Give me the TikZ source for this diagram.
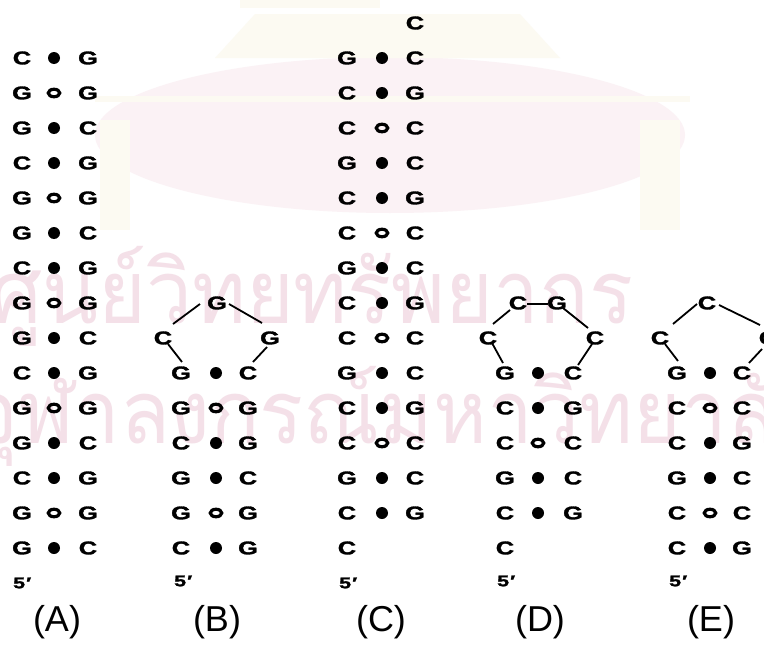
\documentclass[tikz,border=0pt]{standalone}
\usepackage{fontspec}
\setmainfont{Liberation Sans}
\newfontfamily\basefont[FakeStretch=1.38,FakeBold=1.6]{Liberation Sans}
\newfontfamily\thaifont[Script=Thai,FakeStretch=0.93]{Loma}
\usetikzlibrary{shapes.geometric,calc}
\definecolor{wmpink}{RGB}{244,224,232}
\definecolor{wmrose}{RGB}{251,242,245}
\definecolor{wmcream}{RGB}{252,250,242}
\tikzset{
  base/.style={font=\basefont\bfseries\fontsize{18.5}{18.5}\selectfont, inner sep=0pt},
  bondfill/.style={ellipse, fill=black, minimum width=12pt, minimum height=12pt, inner sep=0pt},
  bondopen/.style={ellipse, draw=black, line width=3.2pt, minimum width=11.5pt, minimum height=7.5pt, inner sep=0pt},
  prime/.style={font=\basefont\bfseries\fontsize{15.5}{15.5}\selectfont, inner sep=0pt, anchor=west},
  panel/.style={font=\fontsize{36}{36}\selectfont, inner sep=0pt},
  loopline/.style={line width=1.8pt},
  wmtext/.style={font=\thaifont\fontsize{88}{88}\selectfont, text=wmpink, inner sep=0pt, anchor=base west},
}
% one base-paired row: tag, row index, x of left base, bond, right base, then left base, bond style, right base
\newcommand\bprow[8]{%
  \node[base] (#1l#2) at (#3,{58+35*#2}) {#6};
  \node[#7] (#1d#2) at (#4,{58+35*#2}) {};
  \node[base] (#1r#2) at (#5,{58+35*#2}) {#8};
}
\begin{document}
\begin{tikzpicture}[x=1pt,y=-1pt]
\useasboundingbox (0,0) rectangle (764,645);
\clip (0,0) rectangle (764,645);
\fill[white] (0,0) rectangle (764,645);

% faint emblem and inscription in the background
\fill[wmrose] (390,135) ellipse (295 and 78);
\fill[wmcream] (215,58) -- (255,14) -- (520,14) -- (560,58) -- cycle;
\fill[wmcream] (240,0) rectangle (380,8);
\fill[wmcream] (95,96) rectangle (690,102);
\fill[wmcream] (100,120) rectangle (130,230);
\fill[wmcream] (640,120) rectangle (680,230);
\node[wmtext] (wm1) at (-10,323) {ศูนย์วิทยทรัพยากร};
\node[wmtext] (wm2) at (-30,443) {จุฬาลงกรณ์มหาวิทยาลัย};

% (A) long helix
\foreach \k/\lb/\bd/\rb in {0/C/bondfill/G,1/G/bondopen/G,2/G/bondfill/C,3/C/bondfill/G,
  4/G/bondopen/G,5/G/bondfill/C,6/C/bondfill/G,7/G/bondopen/G,8/G/bondfill/C,
  9/C/bondfill/G,10/G/bondopen/G,11/G/bondfill/C,12/C/bondfill/G,13/G/bondopen/G,14/G/bondfill/C}
  {\bprow{A}{\k}{22}{54}{88}{\lb}{\bd}{\rb}}
\node[prime] (A5) at (13,583) {5\kern1pt′};
\node[panel] (Alab) at (57,622) {(A)};

% (B) hairpin with a three-base loop
\foreach \k/\lb/\bd/\rb in {9/G/bondfill/C,10/G/bondopen/G,11/C/bondfill/G,
  12/G/bondfill/C,13/G/bondopen/G,14/C/bondfill/G}
  {\bprow{B}{\k}{181}{216}{248}{\lb}{\bd}{\rb}}
\node[base] (Bgt) at (217,303) {G};
\node[base] (Bcl) at (163,338) {C};
\node[base] (Bgr) at (270,338) {G};
\draw[loopline] ($(Bgt)+(-17,1)$) -- ($(Bcl)+(10,-14)$);
\draw[loopline] ($(Bgt)+(12,1)$) -- ($(Bgr)+(-8,-15)$);
\draw[loopline] ($(Bcl)+(5,6)$) -- ($(Bl9)+(1,-11)$);
\draw[loopline] ($(Bgr)+(-3,9)$) -- ($(Br9)+(5,-11)$);
\node[prime] (B5) at (174,581) {5\kern1pt′};
\node[panel] (Blab) at (217,622) {(B)};

% (C) helix with overhanging ends
\node[base] (Ctop) at (415,23) {C};
\foreach \k/\lb/\bd/\rb in {0/G/bondfill/C,1/C/bondfill/G,2/C/bondopen/C,3/G/bondfill/C,
  4/C/bondfill/G,5/C/bondopen/C,6/G/bondfill/C,7/C/bondfill/G,8/C/bondopen/C,
  9/G/bondfill/C,10/C/bondfill/G,11/C/bondopen/C,12/G/bondfill/C,13/C/bondfill/G}
  {\bprow{C}{\k}{347}{382}{415}{\lb}{\bd}{\rb}}
\node[base] (Cbot) at (347,548) {C};
\node[prime] (C5) at (339,583) {5\kern1pt′};
\node[panel] (Clab) at (381,622) {(C)};

% (D) hairpin with a four-base loop
\node[base] (Dct) at (518,303) {C};
\node[base] (Dgt) at (557,303) {G};
\node[base] (Dcl) at (488,338) {C};
\node[base] (Dcr) at (595,338) {C};
\foreach \k/\lb/\bd/\rb in {9/G/bondfill/C,10/C/bondfill/G,11/C/bondopen/C,
  12/G/bondfill/C,13/C/bondfill/G}
  {\bprow{D}{\k}{505}{538}{573}{\lb}{\bd}{\rb}}
\node[base] (Dbot) at (505,548) {C};
\draw[loopline] ($(Dct)+(9,1)$) -- ($(Dgt)+(-9,1)$);
\draw[loopline] ($(Dct)+(-8,7)$) -- ($(Dcl)+(5,-14)$);
\draw[loopline] ($(Dgt)+(6,5)$) -- ($(Dcr)+(-7,-10)$);
\draw[loopline] ($(Dcl)+(4,5)$) -- ($(Dl9)+(-2,-10)$);
\draw[loopline] ($(Dcr)+(-3,6)$) -- ($(Dr9)+(5,-8)$);
\node[prime] (D5) at (497,581) {5\kern1pt′};
\node[panel] (Dlab) at (540,622) {(D)};

% (E) hairpin with a three-base loop
\node[base] (Ect) at (707,303) {C};
\node[base] (Ecl) at (660,338) {C};
\node[base] (Ecr) at (768,338) {C};
\foreach \k/\lb/\bd/\rb in {9/G/bondfill/C,10/C/bondopen/C,11/C/bondfill/G,
  12/G/bondfill/C,13/C/bondopen/C,14/C/bondfill/G}
  {\bprow{E}{\k}{677}{710}{742}{\lb}{\bd}{\rb}}
\draw[loopline] ($(Ect)+(-10,1)$) -- ($(Ecl)+(13,-14)$);
\draw[loopline] ($(Ect)+(12,2)$) -- ($(Ecr)+(-8,-13)$);
\draw[loopline] ($(Ecl)+(5,6)$) -- ($(El9)+(1,-12)$);
\draw[loopline] ($(Ecr)+(-6,11)$) -- ($(Er9)+(7,-10)$);
\node[prime] (E5) at (669,581) {5\kern1pt′};
\node[panel] (Elab) at (711,622) {(E)};
\end{tikzpicture}
\end{document}
